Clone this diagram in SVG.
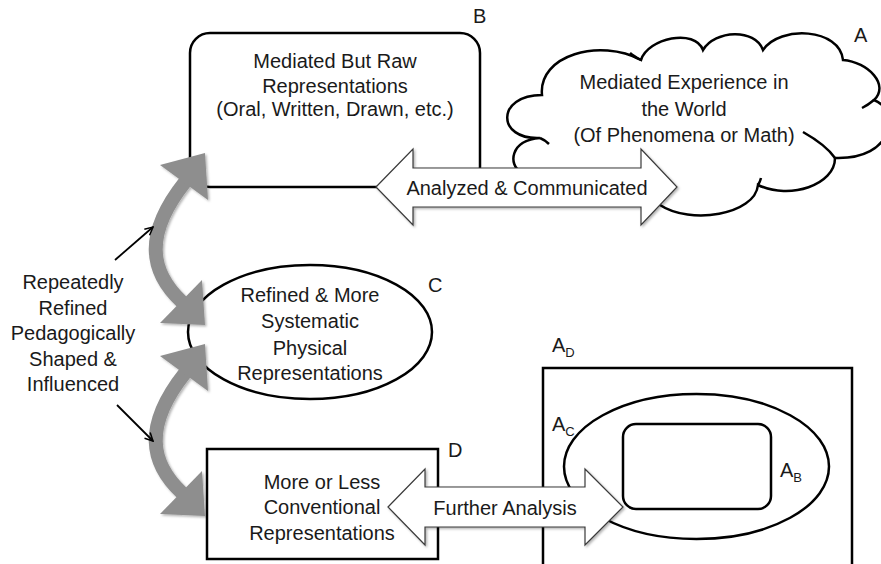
<svg xmlns="http://www.w3.org/2000/svg" width="881" height="564" viewBox="0 0 881 564">
<style>
  text{font-family:"Liberation Sans",Arial,sans-serif;font-size:20px;fill:#1a1a1a}
  .c{text-anchor:middle}
  .sub{font-size:13px}
  .shape{fill:#fff;stroke:#000;stroke-width:2.5}
  .hook{fill:none;stroke:#000;stroke-width:2.5}
  .dbl{fill:#fff;stroke:#3a3a3a;stroke-width:1.2}
  .gray{fill:none;stroke:#8e8e8e;stroke-width:14}
  .gh{fill:#8e8e8e}
  .thin{stroke:#000;stroke-width:1.8;fill:none}
</style>
<defs>
  <filter id="sh" x="-20%" y="-20%" width="140%" height="140%">
    <feDropShadow dx="1.5" dy="1.5" stdDeviation="1.2" flood-color="#000" flood-opacity="0.3"/>
  </filter>
  <marker id="ah" viewBox="0 0 10 10" refX="9" refY="5" markerWidth="10" markerHeight="10" orient="auto" markerUnits="userSpaceOnUse">
    <path d="M1,1 L9,5 L1,9" fill="none" stroke="#000" stroke-width="1.5"/>
  </marker>
  <g id="curve">
    <path class="gray" d="M185,182 C143,235 150,272 182,302"/>
    <polygon class="gh" points="205,153 160,165 208,200"/>
    <polygon class="gh" points="205,325 160,323 202,280"/>
  </g>
</defs>

<g id="nodeB">
  <rect class="shape" x="190" y="33" width="290" height="154" rx="20"/>
  <text class="c" x="335" y="68">Mediated But Raw</text>
  <text class="c" x="335" y="93">Representations</text>
  <text class="c" x="335" y="116">(Oral, Written, Drawn, etc.)</text>
  <text x="473" y="23">B</text>
</g>

<g id="nodeA">
  <path class="shape" d="M521,172 C508,165 510,140 540,138 C496,140 496,95 542,95 C538,55 600,38 641,60 C648,38 695,28 703,50 C715,30 755,28 763,50 C780,25 840,28 843,60 C868,62 890,85 874,100 C900,110 895,160 835,158 C835,185 790,200 758,185 C755,215 690,225 660,205 L650,200 Z"/>
  <path class="hook" d="M540,138 Q545,140 549,144"/>
  <path class="hook" d="M641,60 Q633,56 630,53"/>
  <path class="hook" d="M874,100 Q868,105 862,108"/>
  <path class="hook" d="M835,158 Q826,145 803,132"/>
  <path class="hook" d="M758,185 Q760,182 761,178"/>
  <text class="c" x="684" y="89">Mediated Experience in</text>
  <text class="c" x="684" y="116">the World</text>
  <text class="c" x="684" y="142">(Of Phenomena or Math)</text>
  <text x="854" y="42">A</text>
</g>

<g id="nodeC">
  <ellipse class="shape" cx="310" cy="332" rx="122" ry="67"/>
  <text class="c" x="310" y="302">Refined &amp; More</text>
  <text class="c" x="310" y="328">Systematic</text>
  <text class="c" x="310" y="355">Physical</text>
  <text class="c" x="310" y="380">Representations</text>
  <text x="428" y="292">C</text>
</g>

<g id="nodeD">
  <rect class="shape" x="207" y="449" width="231" height="110"/>
  <text class="c" x="322" y="489">More or Less</text>
  <text class="c" x="322" y="514">Conventional</text>
  <text class="c" x="322" y="540">Representations</text>
  <text x="448" y="457">D</text>
</g>

<g id="nodeAD">
  <rect class="shape" x="543" y="368" width="309" height="210"/>
  <text x="552" y="352">A<tspan class="sub" dy="5">D</tspan></text>
</g>

<g id="nodeAC">
  <ellipse class="shape" cx="696.5" cy="466.5" rx="132.5" ry="72.5"/>
  <text x="552" y="431">A<tspan class="sub" dy="5">C</tspan></text>
</g>

<g id="nodeAB">
  <rect class="shape" x="623" y="424" width="148" height="85" rx="13"/>
  <text x="780" y="477">A<tspan class="sub" dy="5">B</tspan></text>
</g>

<g id="label">
  <text class="c" x="73" y="289">Repeatedly</text>
  <text class="c" x="73" y="315">Refined</text>
  <text class="c" x="73" y="340">Pedagogically</text>
  <text class="c" x="73" y="366">Shaped &amp;</text>
  <text class="c" x="73" y="391">Influenced</text>
</g>

<g id="connectors">
  <g filter="url(#sh)">
    <polygon class="dbl" points="376,187 413,149 413,168 641,168 641,149 677,187 641,225 641,207 413,207 413,225"/>
    <polygon class="dbl" points="388,507 425,469 425,487 585,487 585,469 623,507 585,545 585,527 425,527 425,545"/>
  </g>
  <text class="c" x="527" y="195">Analyzed &amp; Communicated</text>
  <text class="c" x="505" y="515">Further Analysis</text>
  <g filter="url(#sh)">
    <use href="#curve"/>
    <use href="#curve" transform="translate(0,191)"/>
  </g>
  <line class="thin" x1="115" y1="260" x2="153" y2="227" marker-end="url(#ah)"/>
  <line class="thin" x1="117" y1="405" x2="153" y2="441" marker-end="url(#ah)"/>
</g>
</svg>
